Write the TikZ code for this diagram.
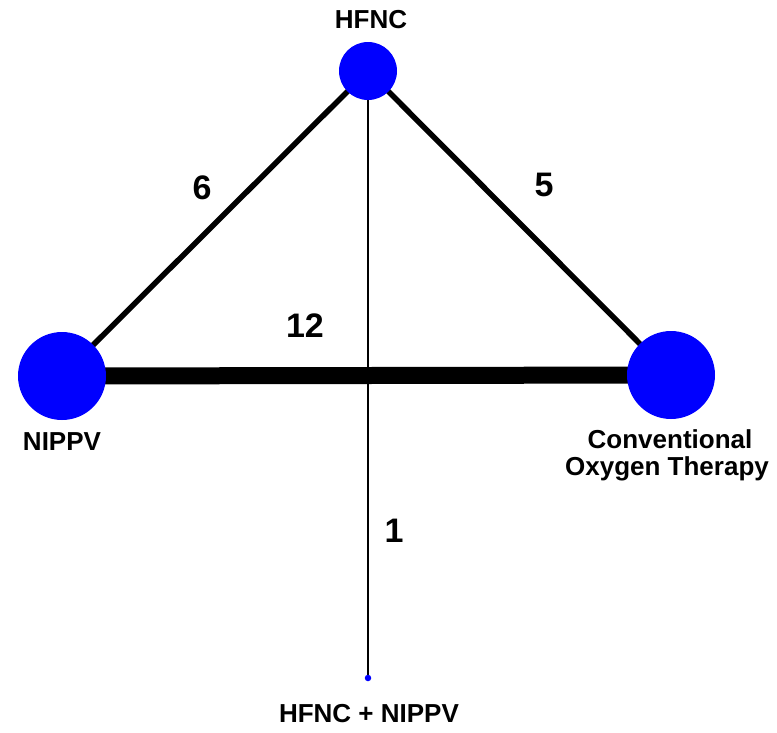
\documentclass[tikz,border=0pt]{standalone}
\usepackage{fontspec}
\setmainfont{Liberation Sans}
\begin{document}
\begin{tikzpicture}[x=1pt,y=-1pt,
  trt/.style={circle,fill=blue,draw=none,inner sep=0pt},
  lbl/.style={font=\fontsize{26}{27}\selectfont\bfseries,anchor=base,inner sep=0pt},
  num/.style={font=\fontsize{34}{36}\selectfont\bfseries,inner sep=0pt},
  edge/.style={draw=black,line width=#1}]
\useasboundingbox (0,0) rectangle (777,732);
\coordinate (cH) at (368,71);
\coordinate (cN) at (62,376);
\coordinate (cC) at (671,375);
\coordinate (cD) at (368,678);
\draw[edge=1.3pt] (cH) -- (cD);
\draw[edge=5.5pt] (cH) -- (cN);
\draw[edge=5.5pt] (cH) -- (cC);
\draw[edge=17pt] (cN) -- (cC);
\node[trt,minimum size=58pt] (hfnc) at (cH) {};
\node[trt,minimum size=88pt] (nippv) at (cN) {};
\node[trt,minimum size=88pt] (cot) at (cC) {};
\node[trt,minimum size=6.5pt] (combo) at (cD) {};
\node[lbl] (tH) at (371,28) {HFNC};
\node[lbl] (tN) at (62,450) {NIPPV};
\node[lbl] (tC1) at (670,448) {Conventional};
\node[lbl] (tC2) at (667,475) {Oxygen Therapy};
\node[lbl] (tD) at (369,722) {HFNC + NIPPV};
\node[num] (n6) at (202,188) {6};
\node[num] (n5) at (544,185) {5};
\node[num] (n12) at (305,326) {12};
\node[num] (n1) at (394,531) {1};
\end{tikzpicture}
\end{document}
